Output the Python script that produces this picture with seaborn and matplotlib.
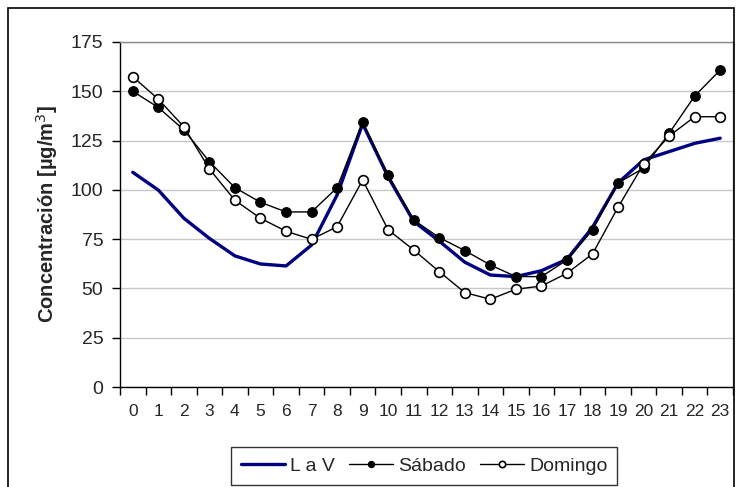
import numpy as np
import pandas as pd
import matplotlib
matplotlib.use("Agg")
import matplotlib.pyplot as plt
import seaborn as sns
from matplotlib.patches import Rectangle
from matplotlib.ticker import FixedLocator

hours = list(range(24))
lav = [108.9, 99.9, 85.6, 75.4, 66.5, 62.4, 61.4, 72.0, 97.4, 133.5, 106.5, 84.0,
       74.0, 63.3, 56.8, 56.0, 59.0, 64.8, 81.0, 103.5, 115.2, 119.4, 123.6, 126.2]
sabado = [150.0, 141.8, 130.4, 114.3, 101.1, 93.7, 88.8, 88.8, 101.1, 134.6, 107.6, 84.7,
          75.8, 69.2, 61.9, 56.0, 56.0, 64.4, 79.7, 103.5, 111.0, 128.7, 147.6, 160.8]
domingo = [157.4, 146.0, 132.0, 110.6, 94.7, 85.6, 79.0, 74.9, 81.3, 105.0, 79.7, 69.5,
           58.5, 47.9, 44.5, 49.6, 51.2, 57.7, 67.5, 91.2, 113.1, 127.3, 137.1, 137.1]
series_names = ["L a V", "Sábado", "Domingo"]
yticks = [0, 25, 50, 75, 100, 125, 150, 175]

sns.set_theme(style="white")
plt.rcParams['font.family'] = ['Liberation Sans', 'DejaVu Sans']

fig = plt.figure(figsize=(7.36, 4.87), dpi=100)
ax = fig.add_axes([120/736, 1-387/487, (733-120)/736, (387-42)/487])

df = pd.DataFrame({"hora": hours, "lav": lav, "sab": sabado, "dom": domingo})

sns.lineplot(data=df, x="hora", y="lav", ax=ax, color="#000080", lw=2.4,
             label=series_names[0], zorder=3)
sns.lineplot(data=df, x="hora", y="sab", ax=ax, color="black", lw=1.0,
             marker="o", markersize=7, markerfacecolor="black", markeredgecolor="black",
             label=series_names[1], zorder=4)
sns.lineplot(data=df, x="hora", y="dom", ax=ax, color="black", lw=1.0,
             marker="o", markersize=7, markerfacecolor="white", markeredgecolor="black",
             markeredgewidth=1.2, label=series_names[2], zorder=5)

ax.set_xlim(-0.5, 23.5)
ax.set_ylim(0, 175)
ax.set_yticks(yticks)
ax.set_xticks(hours)
ax.set_xticklabels([str(h) for h in hours])
ax.xaxis.set_minor_locator(FixedLocator(np.arange(-0.5, 24, 1)))
ax.tick_params(axis="x", which="major", length=0, pad=12, labelsize=12.5)
ax.tick_params(axis="x", which="minor", length=6, width=1, color="black", direction="out", bottom=True)
ax.tick_params(axis="y", which="major", length=6, width=1, color="black", direction="out", left=True,
               labelsize=14, pad=6)
ax.grid(axis="y", color="#c8c8c8", lw=1)
ax.set_axisbelow(True)
for s in ["top", "right"]:
    ax.spines[s].set_color("#888888")
    ax.spines[s].set_linewidth(1)
for s in ["left", "bottom"]:
    ax.spines[s].set_color("black")
    ax.spines[s].set_linewidth(1)
ax.set_xlabel("")
ax.set_ylabel("Concentración [µg/m$^3$]", fontsize=14.5, fontweight="bold", labelpad=8)

leg = ax.legend(loc="center", bbox_to_anchor=(424/736, 1-466/487), bbox_transform=fig.transFigure,
                ncol=3, frameon=True, fontsize=14, handlelength=2.3, handletextpad=0.25,
                columnspacing=0.7, borderpad=0.5, markerscale=0.65, fancybox=False)
leg.get_frame().set_edgecolor("black")
leg.get_frame().set_linewidth(1)

fig.patches.append(Rectangle((8/736, -0.01), (734-8)/736, 1-8/487 + 0.01, transform=fig.transFigure,
                             fill=False, edgecolor="black", lw=1.2))

fig.savefig("out.png", dpi=100, facecolor="white")
